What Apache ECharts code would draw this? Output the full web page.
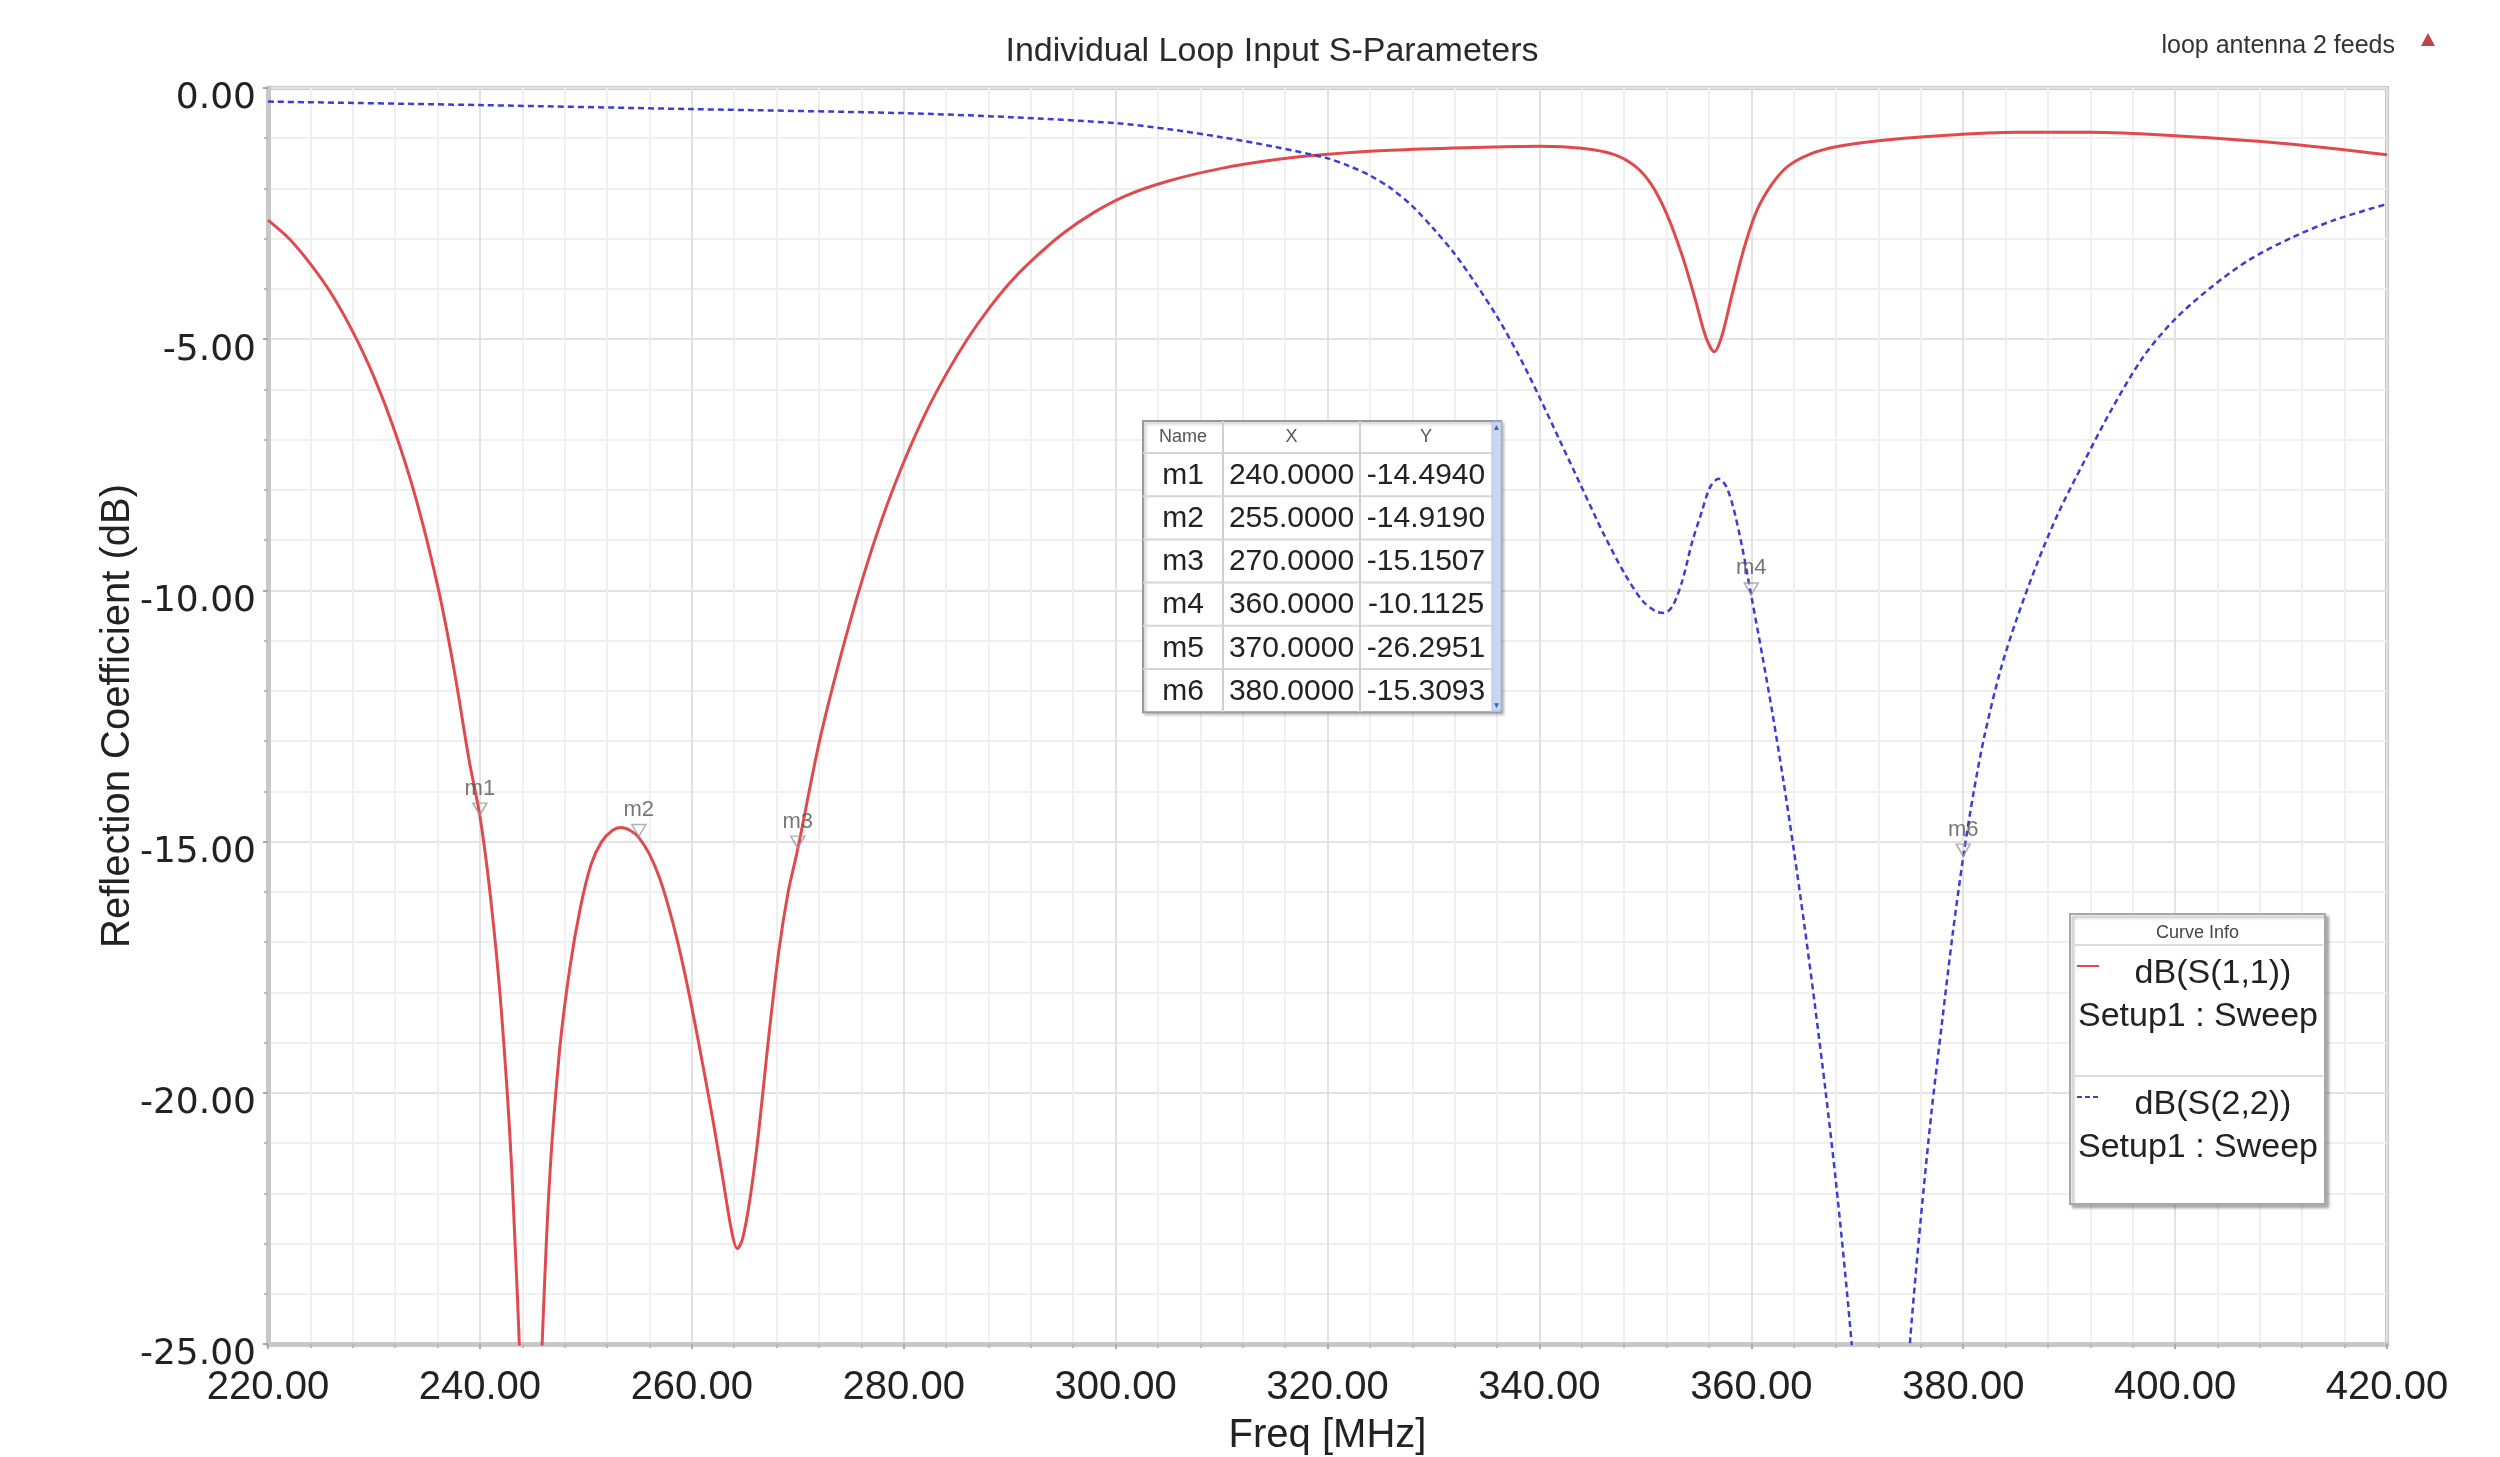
<!DOCTYPE html>
<html><head><meta charset="utf-8">
<script src="https://cdn.jsdelivr.net/npm/echarts@6/dist/echarts.min.js"></script>
<style>html,body{margin:0;padding:0;background:#fff}#c{width:2500px;height:1457px}</style>
</head><body><div id="c"></div>
<script>
// ---- data ----
const s11Freq = [220,222,224,226,228,230,232,234,236,237.5,239,240,241,242,243,244,244.8,245.6,246.5,247.5,248.5,249.5,250.5,251.5,252.5,253.3,254.2,255,256,257,258,259,260,261,262,263,263.8,264.3,264.8,265.5,266.3,267.2,268.2,269.1,270,272,274,276,278,280,282,284,286,288,290,292,295,298,301,305,310,315,320,326,333,340,344,347,349,350.5,352,353.5,354.7,355.7,356.5,357.2,358.2,359.3,360.5,362,363.5,365.5,368,372,377,385,392,400,410,420];
const s11dB   = [-2.63,-3.0,-3.5,-4.1,-4.85,-5.75,-6.85,-8.2,-9.9,-11.5,-13.4,-14.49,-16.1,-18.3,-21.5,-26.5,-31,-26.5,-22.0,-19.2,-17.5,-16.3,-15.45,-15.0,-14.78,-14.72,-14.78,-14.92,-15.25,-15.75,-16.45,-17.3,-18.3,-19.4,-20.55,-21.8,-22.8,-23.1,-22.9,-22.1,-20.8,-19.0,-17.2,-16.0,-15.15,-13.05,-11.35,-9.85,-8.55,-7.45,-6.5,-5.7,-5.0,-4.4,-3.88,-3.45,-2.9,-2.47,-2.14,-1.85,-1.6,-1.43,-1.32,-1.24,-1.19,-1.16,-1.2,-1.32,-1.55,-1.9,-2.5,-3.35,-4.2,-4.95,-5.25,-4.95,-4.1,-3.2,-2.45,-1.9,-1.55,-1.32,-1.17,-1.05,-0.96,-0.88,-0.88,-0.95,-1.1,-1.33];
const s22Freq = [220,240,260,280,290,300,305,310,315,320,322,324,326,328,330,332,334,336,338,340,342,344,346,348,349.7,351,351.8,352.6,353.5,354.4,355.3,356.1,356.9,357.6,358.3,359.1,360,361,362,363,364,365,366,367,368,369,370,371,372.3,373.6,374.4,375,376,377,378,379,380,381,382,383.5,385,387,389,391.5,394,397,400,403.5,407,411,415,420];
const s22dB   = [-0.27,-0.34,-0.42,-0.5,-0.58,-0.7,-0.82,-0.98,-1.17,-1.4,-1.55,-1.74,-2.0,-2.35,-2.8,-3.3,-3.9,-4.55,-5.3,-6.15,-7.05,-7.95,-8.85,-9.65,-10.2,-10.42,-10.45,-10.3,-9.8,-9.05,-8.45,-7.95,-7.78,-7.92,-8.35,-9.1,-10.11,-11.25,-12.45,-13.75,-15.15,-16.65,-18.25,-19.95,-21.8,-23.9,-26.3,-29.2,-33.5,-29.5,-26.8,-24.9,-22.5,-20.4,-18.6,-16.85,-15.31,-14.0,-12.9,-11.6,-10.6,-9.45,-8.45,-7.4,-6.4,-5.35,-4.6,-3.95,-3.42,-2.98,-2.63,-2.31];
const markerNames = ['m1','m2','m3','m4','m5','m6'];
const markerFreq  = [240,255,270,360,370,380];
const markerDB    = [-14.4940,-14.9190,-15.1507,-10.1125,-26.2951,-15.3093];
const seriesNames = ['dB(S(1,1))','dB(S(2,2))'];
const sweepName = 'Setup1 : Sweep';
const xMin = 220, xMax = 420, xStep = 20;
const yMin = -25, yMax = 0, yStep = 5;

const RED = '#e04a4c', BLUE = '#3d3dd4';
const chart = echarts.init(document.getElementById('c'));

// ---- marker table (graphic) ----
const T = {x:1143, y:421, cw:[80,137,132], sw:9, hh:32, rh:43.2};
const tw = T.cw[0]+T.cw[1]+T.cw[2];
const th = T.hh + T.rh*markerNames.length;
const g = [];
g.push({type:'rect', shape:{x:T.x,y:T.y,width:tw+T.sw,height:th}, style:{fill:'#fff',stroke:'#9a9a9a',lineWidth:2, shadowColor:'rgba(0,0,0,0.25)',shadowBlur:3,shadowOffsetX:2,shadowOffsetY:2}, z:100});
g.push({type:'rect', shape:{x:T.x+tw,y:T.y+1,width:T.sw,height:th-2}, style:{fill:'#c9d6f2',stroke:'#b0c0e6',lineWidth:1}, z:101});
g.push({type:'polygon', shape:{points:[[T.x+tw+2,T.y+9],[T.x+tw+T.sw-2,T.y+9],[T.x+tw+T.sw/2,T.y+4]]}, style:{fill:'#4a5fb0'}, z:102});
g.push({type:'polygon', shape:{points:[[T.x+tw+2,T.y+th-9],[T.x+tw+T.sw-2,T.y+th-9],[T.x+tw+T.sw/2,T.y+th-4]]}, style:{fill:'#4a5fb0'}, z:102});
let cx = T.x;
const colX = [];
for (let i=0;i<3;i++){ colX.push(cx + T.cw[i]/2); cx += T.cw[i]; if(i<2) g.push({type:'line', shape:{x1:cx,y1:T.y,x2:cx,y2:T.y+th}, style:{stroke:'#d0d0d0',lineWidth:2}, z:101}); }
['Name','X','Y'].forEach((h,i)=>g.push({type:'text', x:colX[i], y:T.y+T.hh/2, style:{text:h, font:'18px "Liberation Sans", Arial', fill:'#555', align:'center', verticalAlign:'middle'}, z:103}));
for (let r=0;r<markerNames.length;r++){
  const yy = T.y + T.hh + r*T.rh;
  g.push({type:'line', shape:{x1:T.x,y1:yy,x2:T.x+tw,y2:yy}, style:{stroke:'#d6d6d6',lineWidth:2}, z:101});
  const vals = [markerNames[r], markerFreq[r].toFixed(4), markerDB[r].toFixed(4)];
  vals.forEach((v,i)=>g.push({type:'text', x:colX[i], y:yy+T.rh/2+1, style:{text:v, font:'30px "Liberation Sans", Arial', fill:'#222', align:'center', verticalAlign:'middle'}, z:103}));
}
// ---- curve info box ----
const L = {x:2070, y:914, w:255, h:290};
g.push({type:'rect', shape:{x:L.x,y:L.y,width:L.w,height:L.h}, style:{fill:'#fff',stroke:'#a8a8a8',lineWidth:2, shadowColor:'rgba(0,0,0,0.3)',shadowBlur:3,shadowOffsetX:3,shadowOffsetY:3}, z:100});
g.push({type:'text', x:L.x+L.w/2, y:L.y+19, style:{text:'Curve Info', font:'18px "Liberation Sans", Arial', fill:'#444', align:'center', verticalAlign:'middle'}, z:103});
g.push({type:'line', shape:{x1:L.x+2,y1:L.y+31,x2:L.x+L.w-2,y2:L.y+31}, style:{stroke:'#dcdcdc',lineWidth:2}, z:101});
g.push({type:'line', shape:{x1:L.x+2,y1:L.y+162,x2:L.x+L.w-2,y2:L.y+162}, style:{stroke:'#dcdcdc',lineWidth:2}, z:101});
[[RED,'solid',52],[BLUE,[5,3],183]].forEach((s,i)=>{
  g.push({type:'line', shape:{x1:L.x+7,y1:L.y+s[2],x2:L.x+29,y2:L.y+s[2]}, style:{stroke:s[0],lineWidth:2,lineDash:s[1]==='solid'?null:s[1]}, z:103});
  g.push({type:'text', x:L.x+143, y:L.y+s[2]+8, style:{text:seriesNames[i], font:'34px "Liberation Sans", Arial', fill:'#222', align:'center', verticalAlign:'middle'}, z:103});
  g.push({type:'text', x:L.x+128, y:L.y+s[2]+51, style:{text:sweepName, font:'34px "Liberation Sans", Arial', fill:'#222', align:'center', verticalAlign:'middle'}, z:103});
});
// top-right label
g.push({type:'text', x:2395, y:46, style:{text:'loop antenna 2 feeds', font:'25px "Liberation Sans", Arial', fill:'#333', align:'right', verticalAlign:'middle'}, z:103});
g.push({type:'polygon', shape:{points:[[2421,46],[2435,46],[2428,33]]}, style:{fill:'#c0424c'}, z:103});

const option = {
  backgroundColor:'#fff',
  animation:false,
  title:{text:'Individual Loop Input S-Parameters', left:1267, top:30, textAlign:'center',
    textStyle:{fontFamily:'"Liberation Sans", Arial', fontSize:34, fontWeight:'normal', color:'#2a2a2a'}},
  grid:{left:268, right:113, top:88, bottom:113, show:true, borderColor:'#c8c8c8', borderWidth:4, backgroundColor:'#fff', containLabel:false, outerBoundsMode:'none'},
  xAxis:{type:'value', min:xMin, max:xMax, interval:xStep,
    name:'Freq [MHz]', nameLocation:'middle', nameGap:72, nameMoveOverlap:false,
    nameTextStyle:{fontFamily:'"Liberation Sans", Arial', fontSize:40, color:'#222'},
    axisLine:{onZero:false, lineStyle:{color:'#c8c8c8', width:5}},
    axisTick:{show:true, length:5, lineStyle:{color:'#aaa', width:2}},
    minorTick:{show:true, splitNumber:5, length:4, lineStyle:{color:'#bbb', width:2}},
    axisLabel:{margin:24, fontFamily:'"Liberation Sans", Arial', fontSize:40, color:'#222', formatter:v=>v.toFixed(2)},
    splitLine:{show:true, lineStyle:{color:'#e2e2e2', width:2}},
    minorSplitLine:{show:true, lineStyle:{color:'#efefef', width:2}}},
  yAxis:{type:'value', min:yMin, max:yMax, interval:yStep,
    name:'Reflection Coefficient (dB)', nameLocation:'middle', nameGap:130, nameRotate:90, nameMoveOverlap:false,
    nameTextStyle:{fontFamily:'"Liberation Sans", Arial', fontSize:40, color:'#222'},
    axisLine:{show:true, onZero:false, lineStyle:{color:'#c8c8c8', width:5}},
    axisTick:{show:true, length:5, lineStyle:{color:'#aaa', width:2}},
    minorTick:{show:true, splitNumber:5, length:4, lineStyle:{color:'#bbb', width:2}},
    axisLabel:{margin:12, fontFamily:'"DejaVu Sans", Verdana', fontSize:36, color:'#222', formatter:v=>'{a|'+v.toFixed(2)+'}',
      rich:{a:{fontFamily:'"DejaVu Sans", Verdana', fontSize:36, color:'#222', padding:[22,0,0,0]}}},
    splitLine:{show:true, lineStyle:{color:'#e2e2e2', width:2}},
    minorSplitLine:{show:true, lineStyle:{color:'#efefef', width:2}}},
  graphic:{elements:g},
  series:[
    {name:seriesNames[0], type:'line', data:s11Freq.map((f,i)=>[f,s11dB[i]]), smooth:0.3, showSymbol:false, clip:true,
      lineStyle:{color:RED, width:3}, z:3},
    {name:seriesNames[1], type:'line', data:s22Freq.map((f,i)=>[f,s22dB[i]]), smooth:0.3, showSymbol:false, clip:true,
      lineStyle:{color:BLUE, width:2.5, type:[6,4]}, z:3},
    {name:'markers', type:'scatter', clip:true, z:5,
      data:markerNames.map((n,i)=>({name:n, value:[markerFreq[i], markerDB[i]]})),
      symbol:'triangle', symbolRotate:180, symbolSize:[14,12], symbolOffset:[0,-7],
      itemStyle:{color:'rgba(255,255,255,0)', borderColor:'#9a9a9a', borderWidth:1.5},
      label:{show:true, position:'top', distance:3, formatter:p=>p.name, fontFamily:'"Liberation Sans", Arial', fontSize:22, color:'#555'}}
  ]
};
chart.setOption(option);
</script></body></html>
